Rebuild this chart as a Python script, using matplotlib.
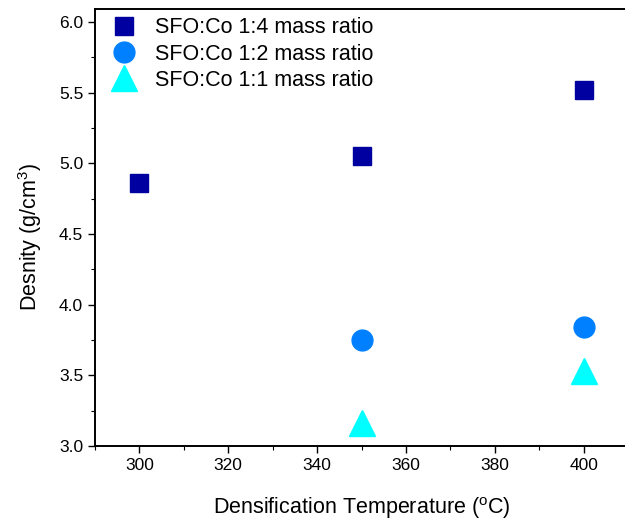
import matplotlib.pyplot as plt
from matplotlib.ticker import MultipleLocator

plt.rcParams['font.family'] = ['Liberation Sans', 'DejaVu Sans']

# Densification temperature (C) and density (g/cm3) per mass ratio
temp_14 = [300, 350, 400]
dens_14 = [4.86, 5.05, 5.52]
temp_12 = [350, 400]
dens_12 = [3.75, 3.84]
temp_11 = [350, 400]
dens_11 = [3.16, 3.53]

labels = ['SFO:Co 1:4 mass ratio', 'SFO:Co 1:2 mass ratio', 'SFO:Co 1:1 mass ratio']

fig = plt.figure(figsize=(6.25, 5.21), dpi=100)
ax = fig.add_axes([0.152, 0.144, 0.853, 0.838])

# Scatter each series
ax.plot(temp_14, dens_14, 's', color='#0000A0', markersize=13, linestyle='none', label=labels[0])
ax.plot(temp_12, dens_12, 'o', color='#0080FF', markersize=15, linestyle='none', label=labels[1])
ax.plot(temp_11, dens_11, '^', color='#00FFFF', markersize=19, linestyle='none', label=labels[2])

ax.set_xlim(290, 410)
ax.set_ylim(3.0, 6.09)
ax.xaxis.set_major_locator(MultipleLocator(20))
ax.xaxis.set_minor_locator(MultipleLocator(10))
ax.yaxis.set_major_locator(MultipleLocator(0.5))
ax.yaxis.set_minor_locator(MultipleLocator(0.25))
ax.tick_params(which='major', direction='out', length=5, width=1.0, labelsize=12.5)
ax.tick_params(which='minor', direction='out', length=3, width=0.8)
for s in ax.spines.values():
    s.set_linewidth(1.4)

ax.set_xlabel('Densification Temperature ($\\mathregular{^{o}}$C)', fontsize=15.5, labelpad=16)
ax.set_ylabel('Desnity (g/cm$\\mathregular{^{3}}$)', fontsize=15.5)
ax.yaxis.set_label_coords(-0.096, 0.479)

ax.legend(loc='upper left', bbox_to_anchor=(0.024, 0.982), frameon=False, fontsize=15.5,
          handletextpad=0.7, labelspacing=0.25, borderaxespad=0, handlelength=1.5, borderpad=0)

fig.savefig('out.png', dpi=100)
